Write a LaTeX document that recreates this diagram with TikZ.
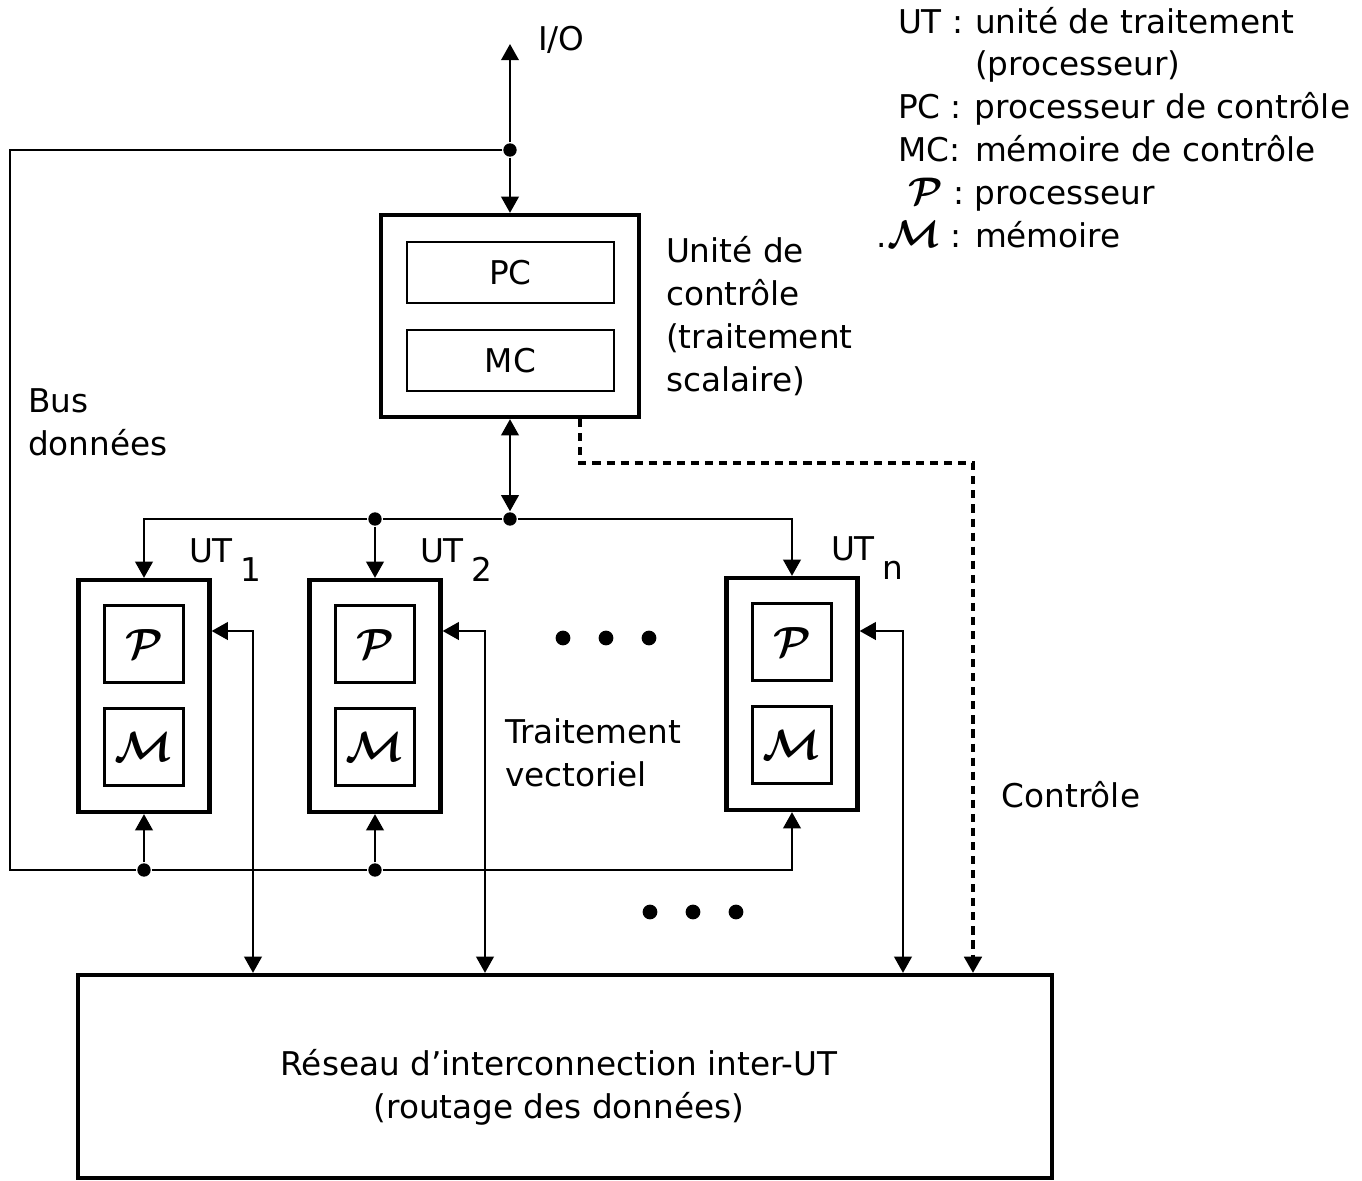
\documentclass[tikz,border=0pt]{standalone}
\usepackage{fontspec}
\setmainfont{DejaVu Sans}
\usetikzlibrary{arrows.meta,positioning,calc}

\tikzset{
  bigbox/.style={draw, line width=1.2pt, inner sep=0pt},
  smallbox/.style={draw, line width=0.7pt, inner sep=0pt},
  junction/.style={circle, fill, inner sep=0pt, minimum size=3.8pt},
  bigdot/.style={circle, fill, inner sep=0pt, minimum size=4.2pt},
  ctrl/.style={line width=0.9pt, dash pattern=on 2.3pt off 1.7pt},
  lbl/.style={inner sep=0pt, align=left},
  sym/.style={font=\fontsize{13}{13}\selectfont\boldmath},
}
\newcommand{\symP}{$\mathcal{P}$}
\newcommand{\symM}{$\mathcal{M}$}
\newcommand{\keyP}{\mbox{\fontsize{11}{12}\selectfont\boldmath$\mathcal{P}$}}
\newcommand{\keyM}{\mbox{\fontsize{11}{12}\selectfont\boldmath$\mathcal{M}$}}
\newcommand{\UTsub}[1]{UT\kern2pt\raisebox{-5.6pt}{#1}}

\begin{document}
\begin{tikzpicture}[x=0.01cm, y=-0.01cm, line width=0.6pt,
    >={Triangle[length=4.6pt,width=5pt]},
    font=\fontsize{9.3}{12.2}\selectfont]
  \useasboundingbox (0,0) rectangle (1362,1181);

  % control unit
  \node[bigbox, minimum width=2.58cm, minimum height=2.02cm] (cu) at (510,316) {};
  \node[smallbox, minimum width=2.07cm, minimum height=0.61cm] (pc) at (510.5,272.5) {PC};
  \node[smallbox, minimum width=2.07cm, minimum height=0.61cm] (mc) at (510.5,360.5) {MC};
  \node[lbl, anchor=west] (cutxt) at (665,316) {Unité de\\contrôle\\(traitement\\scalaire)};

  % processing units
  \foreach \n/\x/\y in {1/144/696, 2/375/696, n/792/694}{
    \node[bigbox, minimum width=1.31cm, minimum height=2.32cm] (ut\n) at (\x,\y) {};
    \node[smallbox, sym, minimum width=0.79cm, minimum height=0.77cm] (p\n) at (\x,\y-52) {\symP};
    \node[smallbox, sym, minimum width=0.79cm, minimum height=0.77cm] (m\n) at (\x,\y+51) {\symM};
  }
  \node[lbl, anchor=base west] (lut1) at (188,562) {\UTsub{1}};
  \node[lbl, anchor=base west] (lut2) at (419,562) {\UTsub{2}};
  \node[lbl, anchor=base west] (lutn) at (830,560) {\UTsub{n}};

  % interconnection network
  \node[bigbox, minimum width=9.74cm, minimum height=2.03cm] (net) at (565,1076.5) {};
  \node[align=center, inner sep=0pt] (nettxt) at (559,1087)
    {Réseau d'interconnection inter-UT\\(routage des données)};

  % I/O and data bus
  \coordinate (io) at (510,44);
  \node[junction] (j0) at (510,150) {};
  \coordinate (busTL) at (10,150);
  \coordinate (busBL) at (10,870);
  \node[junction] (b1) at (144,870) {};
  \node[junction] (b2) at (375,870) {};
  \draw[->] (j0) -- (io);
  \draw[->] (j0) -- (cu.north);
  \draw (j0) -- (busTL) -- (busBL) -- (b1);
  \draw[->] (b1) -- (b2) -| (utn.south);
  \draw[->] (b1) -- (ut1.south);
  \draw[->] (b2) -- (ut2.south);
  \node[anchor=base west, inner sep=0pt] (iotxt) at (537,50) {I/O};
  \node[lbl, anchor=west] (bustxt) at (27,422) {Bus\\données};

  % control distribution
  \node[junction] (j1) at (510,519) {};
  \node[junction] (t2) at (375,519) {};
  \draw[<->] (cu.south) -- (j1);
  \draw[->] (j1) -- (t2) -| (ut1.north);
  \draw[->] (t2) -- (ut2.north);
  \draw[->] (j1) -| (utn.north);

  % links to the network
  \foreach \n/\x in {1/253, 2/485, n/903}{
    \coordinate (k\n) at (\x,631);
    \draw[<->] (ut\n.east |- k\n) -- (k\n) -- (k\n |- net.north);
  }

  % scalar control (dashed)
  \coordinate (c1) at (580,463);
  \coordinate (c2) at (973,463);
  \draw[ctrl, ->] (cu.south -| c1) -- (c1) -- (c2) -- (c2 |- net.north);
  \node[inner sep=0pt] (ctrltxt) at (1071,795) {Contrôle};

  % ellipses
  \foreach \i in {0,1,2}{
    \node[bigdot] (da\i) at (563+43*\i,638) {};
    \node[bigdot] (db\i) at (650+43*\i,912) {};
  }
  \node[lbl, anchor=west] (vectxt) at (504,753) {Traitement\\vectoriel};

  % legend
  \node[inner sep=0pt, anchor=north west] (legend) at (897,2) {%
    \begin{tabular}{@{}l@{\hspace{3pt}}l@{}}
      UT : & unité de traitement\\
           & (processeur)\\
      PC : & processeur de contrôle\\
      MC:  & mémoire de contrôle\\
      \hspace{3pt}\keyP\ : & processeur\\
      \hspace{-6pt}.\keyM\ : & mémoire
    \end{tabular}};
\end{tikzpicture}
\end{document}
